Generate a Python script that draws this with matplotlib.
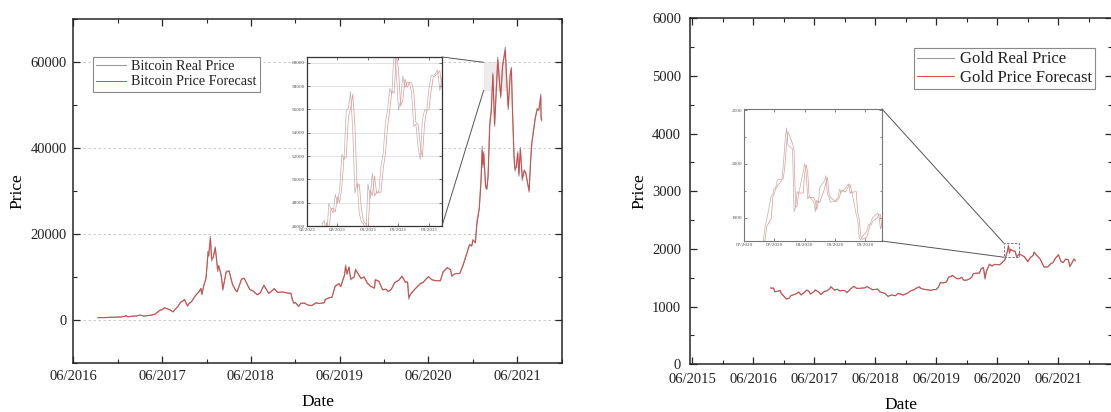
import numpy as np
import pandas as pd
import matplotlib
matplotlib.use('Agg')
import matplotlib.pyplot as plt
import matplotlib.dates as mdates
from matplotlib.patches import Rectangle, ConnectionPatch
from matplotlib.ticker import MultipleLocator, FixedLocator

plt.rcParams['font.family'] = ['Liberation Serif', 'DejaVu Serif']

# ---------------- Bitcoin (main) ----------------
btc_dates = [
    '2016-09-11', '2016-10-01', '2016-10-15', '2016-11-01', '2016-11-15', '2016-12-01', '2016-12-15', '2016-12-31',
    '2017-01-04', '2017-01-11', '2017-01-20', '2017-02-01', '2017-02-15', '2017-03-01', '2017-03-10', '2017-03-18',
    '2017-03-31', '2017-04-15', '2017-04-30', '2017-05-10', '2017-05-25', '2017-06-01', '2017-06-11', '2017-06-20',
    '2017-07-01', '2017-07-16', '2017-07-25', '2017-08-05', '2017-08-17', '2017-08-31', '2017-09-01', '2017-09-14',
    '2017-09-20', '2017-10-01', '2017-10-12', '2017-10-20', '2017-11-01', '2017-11-08', '2017-11-12', '2017-11-20',
    '2017-11-29', '2017-12-07', '2017-12-10', '2017-12-17', '2017-12-22', '2017-12-28',
    '2018-01-06', '2018-01-16', '2018-01-20', '2018-01-31', '2018-02-06', '2018-02-20', '2018-03-04', '2018-03-18',
    '2018-03-31', '2018-04-06', '2018-04-24', '2018-05-05', '2018-05-28', '2018-06-10', '2018-06-28', '2018-07-10',
    '2018-07-25', '2018-08-14', '2018-08-30', '2018-09-05', '2018-09-20', '2018-10-10', '2018-10-31', '2018-11-13',
    '2018-11-19', '2018-11-25', '2018-12-01', '2018-12-15', '2018-12-24',
    '2019-01-09', '2019-01-20', '2019-02-07', '2019-02-24', '2019-03-10', '2019-03-31', '2019-04-03', '2019-04-20',
    '2019-05-01', '2019-05-14', '2019-05-30', '2019-06-06', '2019-06-22', '2019-06-26', '2019-07-02', '2019-07-10',
    '2019-07-17', '2019-07-31', '2019-08-06', '2019-08-28', '2019-09-10', '2019-09-24', '2019-10-06', '2019-10-23',
    '2019-10-26', '2019-11-10', '2019-11-25', '2019-12-10', '2019-12-18', '2019-12-31',
    '2020-01-14', '2020-01-31', '2020-02-13', '2020-02-27', '2020-03-07', '2020-03-12', '2020-03-20', '2020-04-06',
    '2020-04-30', '2020-05-10', '2020-05-20', '2020-06-01', '2020-06-15', '2020-07-01', '2020-07-20', '2020-07-31',
    '2020-08-17', '2020-08-31', '2020-09-05', '2020-09-20', '2020-10-08', '2020-10-21', '2020-11-05', '2020-11-17',
    '2020-11-26', '2020-12-01', '2020-12-11', '2020-12-17', '2020-12-27',
    '2021-01-03', '2021-01-08', '2021-01-11', '2021-01-14', '2021-01-22', '2021-01-27', '2021-02-01', '2021-02-08',
    '2021-02-14', '2021-02-21', '2021-02-28', '2021-03-13', '2021-03-25', '2021-04-02', '2021-04-13', '2021-04-18',
    '2021-04-25', '2021-05-03', '2021-05-08', '2021-05-12', '2021-05-19', '2021-05-23', '2021-05-28', '2021-06-03',
    '2021-06-08', '2021-06-14', '2021-06-22', '2021-06-30', '2021-07-06', '2021-07-20', '2021-07-26', '2021-07-31',
    '2021-08-14', '2021-08-22', '2021-08-29', '2021-09-06', '2021-09-07', '2021-09-10']
btc_real = [
    610, 613, 640, 730, 710, 750, 780, 960,
    1130, 780, 890, 970, 1010, 1220, 1110, 970,
    1070, 1180, 1350, 1750, 2450, 2400, 2950, 2720,
    2500, 1930, 2580, 3220, 4280, 4730, 4890, 3230,
    3900, 4400, 5440, 6000, 6750, 7460, 5950, 8200,
    9890, 16000, 14900, 19500, 13800, 14600,
    17100, 11300, 12800, 10200, 6950, 11400, 11500, 8200,
    6900, 6600, 9650, 9800, 7100, 6800, 5900, 6400,
    8200, 6200, 7000, 7400, 6500, 6600, 6300, 6300,
    4700, 3900, 4200, 3200, 4000,
    4000, 3550, 3400, 4100, 3900, 4100, 4900, 5300,
    5350, 8000, 8600, 7800, 10700, 12900, 10600, 12500,
    9400, 10100, 11900, 9700, 10100, 8500, 7900, 7450,
    9550, 9050, 7050, 7250, 6650, 7200,
    8850, 9350, 10300, 8800, 8900, 4900, 6200, 7300,
    8650, 8750, 9500, 10200, 9400, 9200, 9200, 11300,
    12300, 11700, 10200, 10900, 10900, 12900, 15600, 17700,
    17200, 18800, 18000, 22800, 26300,
    32800, 40500, 35500, 39200, 30800, 30400, 33500, 46200,
    48700, 57500, 45100, 61200, 51700, 59400, 63500, 56200,
    49000, 57200, 58800, 49200, 37000, 34700, 35700, 39200,
    33500, 40200, 32500, 35000, 34200, 29800, 37300, 41400,
    47100, 49300, 48800, 52600, 46800, 46400]
btc_forecast = [
    605, 616, 636, 722, 714, 746, 776, 948,
    1110, 800, 884, 962, 1006, 1205, 1125, 985,
    1062, 1172, 1338, 1720, 2380, 2420, 2900, 2750,
    2520, 1980, 2540, 3170, 4200, 4690, 4800, 3400,
    3850, 4360, 5350, 5950, 6680, 7380, 6100, 8050,
    9700, 15200, 15100, 19000, 14400, 14500,
    16800, 11800, 12600, 10300, 7300, 11200, 11400, 8400,
    7000, 6650, 9500, 9750, 7200, 6850, 5950, 6350,
    8100, 6300, 6950, 7350, 6520, 6580, 6320, 6310,
    4900, 4000, 4150, 3250, 3950,
    3990, 3580, 3410, 4050, 3910, 4090, 4750, 5250,
    5330, 7800, 8500, 7850, 10500, 12500, 10900, 12300,
    9700, 10000, 11700, 9800, 10050, 8700, 7950, 7500,
    9300, 9100, 7150, 7230, 6700, 7180,
    8700, 9300, 10200, 8900, 8880, 5400, 6100, 7200,
    8550, 8800, 9450, 10100, 9450, 9210, 9190, 11150,
    12200, 11750, 10400, 10850, 10880, 12700, 15400, 17500,
    17400, 18600, 18100, 22200, 26000,
    32000, 39500, 36200, 38800, 31500, 30600, 33200, 45000,
    48400, 57000, 45600, 60500, 52200, 59100, 62800, 57000,
    49600, 56800, 58500, 50200, 38500, 35200, 35600, 38800,
    34000, 39700, 33000, 34800, 34300, 30200, 36700, 41000,
    46800, 49000, 48900, 52000, 47600, 46600]

# ---------------- Bitcoin (inset, daily) ----------------
btc_inset_start = '2021-02-01'
btc_inset_real = [
    33537, 35510, 37472, 36926, 38144, 39266, 38903, 46196, 46481, 44918, 47909, 47504, 47105, 48717,
    47945, 49199, 52149, 51679, 55888, 56099, 57539, 54207, 48824, 49705, 47093, 46339, 46188, 45137,
    49631, 48378, 50538, 48561, 48927, 48912, 51206, 52246, 54824, 56008, 57805, 57333, 61243, 59302,
    55907, 56804, 58870, 57858, 58347, 58313, 57523, 54529, 54738, 52774, 51704, 55137, 55974, 55947,
    57750, 58918, 58918, 59095, 59384, 57603, 58758]
btc_inset_forecast = [
    33100, 33900, 35700, 37300, 37000, 38200, 39100, 39300, 45400, 46300, 45200, 47500, 47500, 47200,
    48500, 48000, 49400, 51800, 51900, 55300, 56100, 57300, 54600, 49300, 49600, 47400, 46400, 46200,
    45500, 49100, 48600, 50300, 48800, 48900, 48900, 50900, 52200, 54500, 55900, 57600, 57400, 60700,
    59500, 56300, 56800, 58600, 57900, 58300, 58300, 57600, 54900, 54700, 53000, 51900, 54800, 55900,
    56000, 57600, 58800, 58900, 59100, 59300, 57800]

# ---------------- Gold (main) ----------------
gold_dates = [
    '2016-09-12', '2016-09-30', '2016-10-07', '2016-10-31', '2016-11-08', '2016-11-15', '2016-11-30', '2016-12-15',
    '2016-12-30', '2017-01-13', '2017-01-31', '2017-02-15', '2017-02-27', '2017-03-14', '2017-03-31', '2017-04-17',
    '2017-04-28', '2017-05-09', '2017-05-31', '2017-06-06', '2017-06-30', '2017-07-10', '2017-07-31', '2017-08-15',
    '2017-08-31', '2017-09-08', '2017-09-29', '2017-10-16', '2017-10-31', '2017-11-15', '2017-11-30', '2017-12-12',
    '2017-12-29', '2018-01-15', '2018-01-25', '2018-02-08', '2018-02-28', '2018-03-15', '2018-03-30', '2018-04-11',
    '2018-04-30', '2018-05-15', '2018-05-31', '2018-06-14', '2018-06-29', '2018-07-16', '2018-07-31', '2018-08-16',
    '2018-08-31', '2018-09-14', '2018-09-28', '2018-10-15', '2018-10-31', '2018-11-13', '2018-11-30', '2018-12-14',
    '2018-12-31', '2019-01-15', '2019-01-31', '2019-02-20', '2019-02-28', '2019-03-15', '2019-03-29', '2019-04-15',
    '2019-04-30', '2019-05-15', '2019-05-31', '2019-06-14', '2019-06-25', '2019-07-15', '2019-07-31', '2019-08-13',
    '2019-08-30', '2019-09-04', '2019-09-30', '2019-10-15', '2019-10-31', '2019-11-12', '2019-11-29', '2019-12-13',
    '2019-12-31', '2020-01-08', '2020-01-31', '2020-02-14', '2020-02-24', '2020-03-09', '2020-03-19', '2020-03-26',
    '2020-04-14', '2020-04-30', '2020-05-15', '2020-05-29', '2020-06-15', '2020-06-30', '2020-07-15', '2020-07-31',
    '2020-08-06', '2020-08-12', '2020-08-18', '2020-08-31', '2020-09-15', '2020-09-24', '2020-10-09', '2020-10-30',
    '2020-11-09', '2020-11-30', '2020-12-16', '2020-12-31', '2021-01-06', '2021-01-29', '2021-02-12', '2021-02-26',
    '2021-03-08', '2021-03-31', '2021-04-15', '2021-04-30', '2021-05-14', '2021-06-01', '2021-06-17', '2021-06-30',
    '2021-07-15', '2021-07-30', '2021-08-09', '2021-08-31', '2021-09-03', '2021-09-10']
gold_real = [
    1325, 1322, 1255, 1272, 1285, 1225, 1178, 1128,
    1146, 1196, 1210, 1232, 1255, 1200, 1245, 1290,
    1266, 1216, 1266, 1293, 1243, 1209, 1268, 1275,
    1311, 1348, 1283, 1304, 1270, 1282, 1277, 1241,
    1291, 1338, 1354, 1315, 1318, 1323, 1325, 1352,
    1316, 1290, 1300, 1305, 1251, 1240, 1224, 1174,
    1201, 1199, 1187, 1230, 1215, 1200, 1222, 1240,
    1279, 1289, 1320, 1345, 1316, 1302, 1295, 1287,
    1283, 1297, 1295, 1344, 1419, 1413, 1427, 1512,
    1528, 1546, 1485, 1482, 1510, 1456, 1460, 1476,
    1515, 1576, 1582, 1581, 1660, 1680, 1474, 1616,
    1740, 1702, 1735, 1728, 1726, 1768, 1811, 1971,
    2067, 1920, 2001, 1968, 1960, 1859, 1920, 1880,
    1860, 1776, 1859, 1887, 1950, 1864, 1824, 1734,
    1683, 1691, 1743, 1768, 1840, 1903, 1776, 1763,
    1827, 1813, 1690, 1815, 1828, 1795]
gold_forecast = [
    1321, 1318, 1262, 1268, 1281, 1232, 1184, 1134,
    1142, 1192, 1207, 1229, 1251, 1205, 1241, 1285,
    1269, 1221, 1262, 1289, 1247, 1213, 1263, 1272,
    1306, 1343, 1287, 1301, 1273, 1280, 1278, 1245,
    1286, 1334, 1350, 1319, 1317, 1322, 1324, 1348,
    1320, 1294, 1298, 1303, 1255, 1242, 1226, 1179,
    1198, 1200, 1189, 1226, 1217, 1202, 1219, 1238,
    1275, 1287, 1316, 1341, 1320, 1304, 1297, 1289,
    1284, 1295, 1296, 1339, 1410, 1414, 1425, 1503,
    1525, 1542, 1490, 1483, 1507, 1460, 1459, 1474,
    1511, 1568, 1580, 1581, 1651, 1676, 1495, 1600,
    1728, 1706, 1731, 1729, 1727, 1764, 1806, 1958,
    2050, 1935, 1992, 1970, 1961, 1866, 1914, 1884,
    1868, 1784, 1852, 1884, 1941, 1870, 1827, 1742,
    1688, 1689, 1738, 1766, 1834, 1898, 1786, 1765,
    1822, 1815, 1700, 1807, 1825, 1799]

# ---------------- Gold (inset, trading days) ----------------
gold_inset_start = '2020-07-09'
gold_inset_end = '2020-10-08'
gold_inset_real = [
    1803, 1800,
    1806, 1802, 1811, 1797, 1807,
    1815, 1842, 1864, 1885, 1897,
    1941, 1944, 1955, 1957, 1971,
    1972, 2001, 2040, 2067, 2035,
    2028, 1911, 1920, 1949, 1944,
    1985, 2001, 1985, 1935, 1939,
    1930, 1911, 1933, 1927, 1957,
    1968, 1978, 1943, 1939, 1929,
    1931, 1934, 1938, 1953, 1947,
    1955, 1960, 1963, 1945, 1950,
    1906, 1896, 1862, 1859, 1865,
    1875, 1887, 1887, 1895, 1901,
    1909, 1905, 1879, 1890]
gold_inset_forecast = [
    1795, 1802,
    1801, 1805, 1803, 1809, 1799,
    1806, 1816, 1840, 1862, 1884,
    1899, 1938, 1946, 1954, 1959,
    1970, 1974, 1998, 2036, 2060,
    2038, 2026, 1920, 1922, 1946,
    1946, 1982, 1998, 1986, 1938,
    1938, 1931, 1915, 1931, 1929,
    1953, 1965, 1975, 1946, 1938,
    1931, 1930, 1934, 1938, 1951,
    1948, 1954, 1959, 1962, 1947,
    1949, 1910, 1897, 1866, 1860,
    1864, 1874, 1886, 1888, 1894,
    1900, 1907, 1906, 1882]

labels_btc = ['Bitcoin Real Price', 'Bitcoin Price Forecast']
labels_gold = ['Gold Real Price', 'Gold Price Forecast']

# ---------------- styling ----------------
C_REAL = '#9c9c9c'
C_FC = '#d84848'
C_REAL_IN = '#b4b4b4'
C_FC_IN = '#f09090'
SPINE = '#262626'

W, H = 1111, 412
fig = plt.figure(figsize=(W / 100, H / 100), dpi=100)

def fa(x0, y0, x1, y1):
    return [x0 / W, (H - y1) / H, (x1 - x0) / W, (y1 - y0) / H]

ax1 = fig.add_axes(fa(73.3, 19.3, 561.7, 363.3))
ax2 = fig.add_axes(fa(690, 18.3, 1112, 364.3))

def style_main(ax, xpad, ypad):
    for s in ax.spines.values():
        s.set_color(SPINE)
        s.set_linewidth(1.1)
    ax.xaxis.set_major_locator(mdates.MonthLocator(bymonth=6))
    ax.xaxis.set_minor_locator(mdates.MonthLocator(bymonth=12))
    ax.xaxis.set_major_formatter(mdates.DateFormatter('%m/%Y'))
    ax.tick_params(which='both', direction='in', top=True, right=True, colors=SPINE,
                   labelcolor='#222222', labelsize=10.5)
    ax.tick_params(which='major', length=5, width=0.9)
    ax.tick_params(which='minor', length=3, width=0.8)
    ax.tick_params(axis='x', pad=xpad)
    ax.tick_params(axis='y', pad=ypad)

# ---- Bitcoin main ----
bd = pd.to_datetime(btc_dates)
l_real, = ax1.plot(bd, btc_real, color=C_REAL, lw=0.8, zorder=3)
l_fc, = ax1.plot(bd, btc_forecast, color=C_FC, lw=0.7, zorder=4)
ax1.set_xlim(pd.Timestamp('2016-06-01'), pd.Timestamp('2021-12-01'))
ax1.set_ylim(-10000, 70000)
ax1.yaxis.set_major_locator(MultipleLocator(20000))
ax1.yaxis.set_minor_locator(MultipleLocator(10000))
ax1.yaxis.grid(True, which='major', ls=(0, (3, 3)), color='#c4c4c4', lw=0.6)
ax1.set_axisbelow(True)
style_main(ax1, 4.8, 4.5)
ax1.set_ylabel('Price', fontsize=12.5)
ax1.set_xlabel('Date', fontsize=12.5)
ax1.yaxis.label.set_va('center')
ax1.xaxis.label.set_va('center')
ax1.yaxis.set_label_coords(-0.1153, 0.5)
ax1.xaxis.set_label_coords(0.5, -0.1116)
leg1 = ax1.legend([l_real, l_fc], labels_btc, loc='upper left', bbox_to_anchor=(0.0397, 0.891),
                  fontsize=10.2, frameon=True, fancybox=False, edgecolor='#8a8a8a', framealpha=1,
                  handlelength=2.1, handletextpad=0.35, borderpad=0.25, labelspacing=0.15,
                  borderaxespad=0)
leg1.get_frame().set_linewidth(0.8)
for t in leg1.get_texts():
    t.set_color('#222222')

# zoom region rectangle on bitcoin main
rx0 = mdates.date2num(pd.Timestamp('2021-01-14'))
rx1 = mdates.date2num(pd.Timestamp('2021-04-12'))
ry0, ry1 = 53500, 60000
ax1.add_patch(Rectangle((rx0, ry0), rx1 - rx0, ry1 - ry0, facecolor='#ececec',
                        edgecolor='#c8c8c8', lw=0.5, ls=':', zorder=2))

# ---- Bitcoin inset ----
ins1 = fig.add_axes(fa(307, 57, 442, 226))
idx1 = pd.date_range(btc_inset_start, periods=len(btc_inset_real), freq='D')
ins1.plot(idx1, btc_inset_real, color=C_REAL_IN, lw=0.5)
ins1.plot(idx1, btc_inset_forecast, color=C_FC_IN, lw=0.5)
ins1.set_xlim(pd.Timestamp('2021-02-01'), pd.Timestamp('2021-04-04'))
ins1.set_ylim(46000, 60500)
ins1.yaxis.set_major_locator(MultipleLocator(2000))
ins1.xaxis.set_major_locator(FixedLocator(mdates.date2num(pd.date_range('2021-02-01', periods=5, freq='14D'))))
ins1.xaxis.set_major_formatter(mdates.DateFormatter('%m/%Y'))
ins1.yaxis.grid(True, color='#d6d6d6', lw=0.5)
ins1.set_axisbelow(True)
ins1.tick_params(direction='in', top=True, right=True, labelsize=3.8, length=2, width=0.5,
                 pad=1.2, colors='#444444', labelcolor='#555555')
for s in ins1.spines.values():
    s.set_color('#333333')
    s.set_linewidth(0.9)

c1 = ConnectionPatch(xyA=(1, 1), coordsA=ins1.transAxes, xyB=(rx0, ry1), coordsB=ax1.transData,
                     color='#555555', lw=0.7)
c2 = ConnectionPatch(xyA=(1, 0), coordsA=ins1.transAxes, xyB=(rx0, ry0), coordsB=ax1.transData,
                     color='#555555', lw=0.7)
fig.add_artist(c1)
fig.add_artist(c2)

# ---- Gold main ----
gd = pd.to_datetime(gold_dates)
g_real, = ax2.plot(gd, gold_real, color=C_REAL, lw=0.8, zorder=3)
g_fc, = ax2.plot(gd, gold_forecast, color=C_FC, lw=0.7, zorder=4)
ax2.set_xlim(pd.Timestamp('2015-05-18'), pd.Timestamp('2022-04-18'))
ax2.set_ylim(0, 6000)
ax2.yaxis.set_major_locator(MultipleLocator(1000))
ax2.yaxis.set_minor_locator(MultipleLocator(500))
style_main(ax2, 6.0, 6.5)
ax2.set_ylabel('Price', fontsize=12.5)
ax2.set_xlabel('Date', fontsize=12.5)
ax2.yaxis.label.set_va('center')
ax2.xaxis.label.set_va('center')
ax2.yaxis.set_label_coords(-0.1209, 0.5)
ax2.xaxis.set_label_coords(0.5, -0.1176)
leg2 = ax2.legend([g_real, g_fc], labels_gold, loc='upper right', bbox_to_anchor=(0.96, 0.914),
                  fontsize=12, frameon=True, fancybox=False, edgecolor='#8a8a8a', framealpha=1,
                  handlelength=2.2, handletextpad=0.36, borderpad=0.2, labelspacing=0.15,
                  borderaxespad=0)
leg2.get_frame().set_linewidth(0.8)
for t in leg2.get_texts():
    t.set_color('#222222')

# ---- Gold inset ----
ins2 = fig.add_axes(fa(744, 109, 882, 241))
idx2 = pd.bdate_range(gold_inset_start, gold_inset_end)
ins2.plot(idx2, gold_inset_real, color=C_REAL_IN, lw=0.5)
ins2.plot(idx2, gold_inset_forecast, color=C_FC_IN, lw=0.5)
gx0 = mdates.date2num(pd.Timestamp(gold_inset_start))
gx1 = mdates.date2num(pd.Timestamp(gold_inset_end))
gy0, gy1 = 1857, 2102
ins2.set_xlim(gx0, gx1)
ins2.set_ylim(gy0, gy1)
ins2.yaxis.set_major_locator(MultipleLocator(100))
ins2.yaxis.set_minor_locator(MultipleLocator(50))
ins2.xaxis.set_major_locator(FixedLocator(mdates.date2num(pd.date_range(gold_inset_start, periods=5, freq='20D'))))
ins2.xaxis.set_major_formatter(mdates.DateFormatter('%m/%Y'))
ins2.tick_params(which='both', direction='in', top=True, right=True, labelsize=3.8, width=0.5,
                 pad=1.2, colors='#555555', labelcolor='#555555')
ins2.tick_params(which='major', length=2)
ins2.tick_params(which='minor', length=1.2)
for s in ins2.spines.values():
    s.set_color('#777777')
    s.set_linewidth(0.8)

ax2.add_patch(Rectangle((gx0, gy0), gx1 - gx0, gy1 - gy0, facecolor='none',
                        edgecolor='#777777', lw=0.7, ls=(0, (2.5, 1.5)), zorder=5))
c3 = ConnectionPatch(xyA=(1, 1), coordsA=ins2.transAxes, xyB=(gx0, gy1), coordsB=ax2.transData,
                     color='#555555', lw=0.7)
c4 = ConnectionPatch(xyA=(1, 0), coordsA=ins2.transAxes, xyB=(gx0, gy0), coordsB=ax2.transData,
                     color='#555555', lw=0.7)
fig.add_artist(c3)
fig.add_artist(c4)

fig.savefig('out.png', dpi=100)
